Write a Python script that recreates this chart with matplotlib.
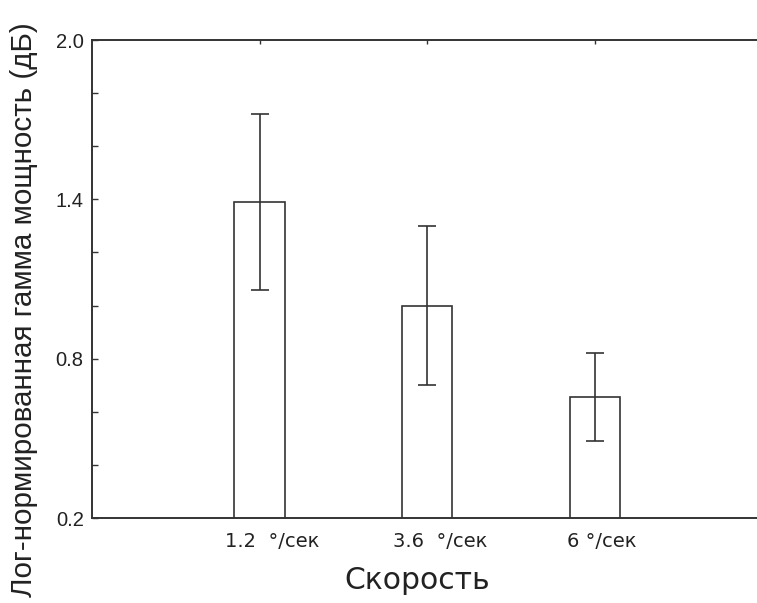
import matplotlib
matplotlib.use("Agg")
import matplotlib.pyplot as plt
from matplotlib.ticker import FixedLocator
import matplotlib.transforms as mtransforms

# Data
categories = ["1.2  °/сек", "3.6  °/сек", "6 °/сек"]
means = [1.39, 1.00, 0.655]
errors = [0.332, 0.30, 0.165]
y_major = [0.2, 0.8, 1.4, 2.0]
y_major_labels = ["0.2", "0.8", "1.4", "2.0"]
y_minor = [0.4, 0.6, 1.0, 1.2, 1.6, 1.8]

W, H = 757, 603
fig = plt.figure(figsize=(W / 100, H / 100), dpi=100)
ax = fig.add_axes([92 / W, 1 - 518 / H, (757.5 - 92) / W, (518 - 40) / H])

edge = "#333333"
x = list(range(len(categories)))
ax.bar(x, means, width=0.30, bottom=0, color="white", edgecolor=edge, linewidth=1.2, zorder=2)
ax.errorbar(x, means, yerr=errors, fmt="none", ecolor=edge, elinewidth=1.2,
            capsize=6.5, capthick=1.2, zorder=3)

ax.set_xlim(-1.0, 2.97)
ax.set_ylim(0.2, 2.0)

for s in ax.spines.values():
    s.set_color(edge)
    s.set_linewidth(1.4)
ax.spines["right"].set_color("#aaaaaa")

ax.set_xticks(x)
ax.set_xticklabels(categories, fontfamily="DejaVu Sans", fontsize=14, color="#222222")
ax.yaxis.set_major_locator(FixedLocator(y_major))
ax.set_yticklabels(y_major_labels, fontfamily="Liberation Sans", fontsize=14.5, color="#222222")
ax.yaxis.set_minor_locator(FixedLocator(y_minor))

ax.tick_params(axis="x", direction="in", length=3, width=1.0, color=edge,
               top=True, bottom=True, pad=10)
ax.tick_params(axis="y", which="both", direction="in", length=4, width=1.0, color=edge,
               left=True, right=False, pad=6)

# shift x tick labels slightly right (as in reference)
shifts = [13, 12.5, 7]
for lbl, dx in zip(ax.get_xticklabels(), shifts):
    lbl.set_transform(lbl.get_transform() + mtransforms.ScaledTranslation(dx / 100, 0, fig.dpi_scale_trans))

fig.text(417.5 / W, 1 - 589 / H, "Скорость", ha="center", va="baseline",
         fontfamily="DejaVu Sans", fontsize=21.5, color="#222222")
fig.text(24 / W, 1 - 310 / H, "Лог-нормированная гамма мощность (дБ)", rotation=90,
         ha="center", va="center", fontfamily="Liberation Sans", fontsize=21.3, color="#222222")

fig.savefig("out.png", dpi=100, facecolor="white")
